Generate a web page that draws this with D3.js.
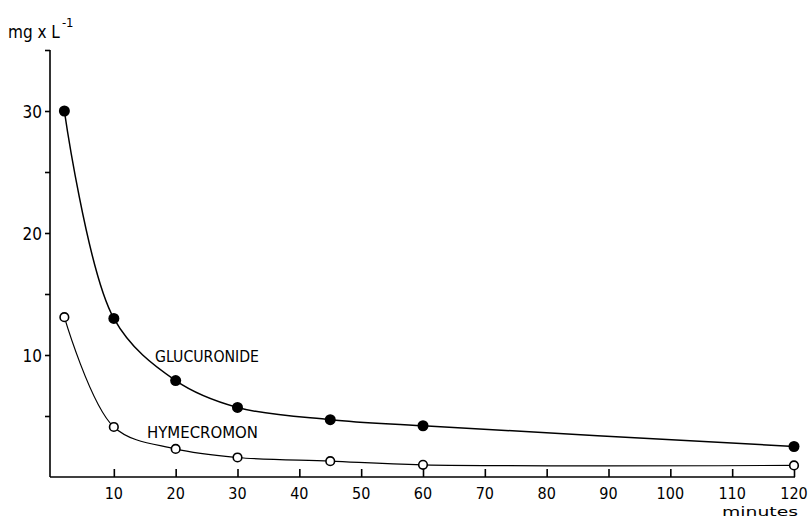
<!DOCTYPE html>
<html>
<head>
<meta charset="utf-8">
<script src="https://cdn.jsdelivr.net/npm/d3@7"></script>
<style>
   body { margin: 0; background: #fff; }
   svg { font-family: "DejaVu Sans Condensed", "DejaVu Sans", sans-serif; }
</style>
</head>
<body>
<div id="chart"></div>
<script>
var times = [2, 10, 20, 30, 45, 60, 120]
var glucuronide = [30, 13, 7.9, 5.7, 4.7, 4.2, 2.5]
var hymecromon = [13.1, 4.1, 2.3, 1.6, 1.3, 1.0, 0.95]
var xTicks = [10, 20, 30, 40, 50, 60, 70, 80, 90, 100, 110, 120]
var yTicks = [10, 20, 30]
var yMinorTicks = [5, 15, 25, 35]

var width = 809
var height = 521

var svg = d3.select("#chart").append("svg")
   .attr("width", width)
   .attr("height", height)

var scaleX = d3.scaleLinear().domain([0, 120]).range([52, 794])
var scaleY = d3.scaleLinear().domain([0, 35]).range([477, 50])

var yAxis = d3.axisLeft(scaleY).tickValues(yTicks).tickSize(5).tickPadding(3)
var yMinor = d3.axisLeft(scaleY).tickValues(yMinorTicks).tickSize(5).tickFormat("")
var xAxis = d3.axisTop(scaleX).tickValues(xTicks).tickSize(8).tickFormat("")

var gy = svg.append("g").attr("transform", "translate(50,0)").call(yAxis)
svg.append("g").attr("transform", "translate(50,0)").call(yMinor)
   .select(".domain").remove()
gy.select(".domain").attr("d", "M0," + scaleY(35) + "V" + scaleY(0))
gy.selectAll("text")
   .attr("font-size", 17)
   .attr("font-family", "DejaVu Sans Condensed, DejaVu Sans, sans-serif")
   .attr("dy", "0.36em")

var gx = svg.append("g").attr("transform", "translate(0," + scaleY(0) + ")").call(xAxis)
gx.select(".domain").attr("d", "M50,0H795")
svg.selectAll("g.tick line, path.domain").attr("stroke", "#000").attr("stroke-width", 1.6)

// x tick labels under the axis
svg.selectAll("text.xlab").data(xTicks).enter().append("text")
   .attr("class", "xlab")
   .attr("x", function(d) { return scaleX(d) })
   .attr("y", 499)
   .attr("text-anchor", "middle")
   .attr("font-size", 16)
   .text(function(d) { return d })

svg.append("text")
   .attr("x", 722).attr("y", 516)
   .attr("font-size", 13)
   .attr("textLength", 76)
   .attr("lengthAdjust", "spacingAndGlyphs")
   .text("minutes")

var unit = svg.append("text").attr("x", 8).attr("y", 38).attr("font-size", 17)
unit.append("tspan").text("mg x L")
unit.append("tspan").attr("dx", 2).attr("dy", -11).attr("font-size", 13).text("-1")

var line = d3.line()
   .x(function(d) { return scaleX(d[0]) })
   .y(function(d) { return scaleY(d[1]) })
   .curve(d3.curveCatmullRom.alpha(0.5))

var gData = times.map(function(t, i) { return [t, glucuronide[i]] })
var hData = times.map(function(t, i) { return [t, hymecromon[i]] })

svg.append("path").datum(gData).attr("d", line)
   .attr("fill", "none").attr("stroke", "#000").attr("stroke-width", 1.5)
svg.append("path").datum(hData).attr("d", line)
   .attr("fill", "none").attr("stroke", "#000").attr("stroke-width", 1.2)

svg.selectAll("circle.gluc").data(gData).enter().append("circle")
   .attr("class", "gluc")
   .attr("r", 5.5)
   .attr("fill", "#000")
   .attr("cx", function(d) { return scaleX(d[0]) })
   .attr("cy", function(d) { return scaleY(d[1]) })

svg.selectAll("circle.hyme").data(hData).enter().append("circle")
   .attr("class", "hyme")
   .attr("r", 4.3)
   .attr("fill", "#fff")
   .attr("stroke", "#000")
   .attr("stroke-width", 1.6)
   .attr("cx", function(d) { return scaleX(d[0]) })
   .attr("cy", function(d) { return scaleY(d[1]) })

svg.append("text").attr("x", 155).attr("y", 362).attr("font-size", 15)
   .attr("font-family", "DejaVu Sans")
   .attr("textLength", 104).attr("lengthAdjust", "spacingAndGlyphs").text("GLUCURONIDE")
svg.append("text").attr("x", 147).attr("y", 438).attr("font-size", 15)
   .attr("font-family", "DejaVu Sans")
   .attr("textLength", 111).attr("lengthAdjust", "spacingAndGlyphs").text("HYMECROMON")
</script>
</body>
</html>
